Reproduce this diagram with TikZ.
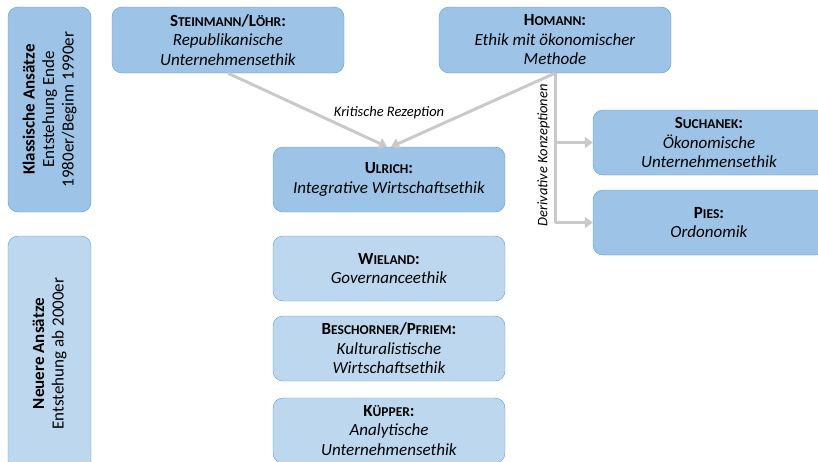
\documentclass[tikz,border=0pt]{standalone}
\usepackage{fontspec}
\setmainfont{Carlito}
\usetikzlibrary{positioning,arrows.meta,calc}
\definecolor{boxdark}{HTML}{9DC3E6}
\definecolor{boxlight}{HTML}{BDD7EE}
\definecolor{boxline}{HTML}{5B9BD5}
\definecolor{arrgray}{HTML}{C9C9C9}
% Kapitaelchen von Hand
\newcommand{\kl}[1]{{\fontsize{13.5}{19.5}\selectfont #1}}

\begin{document}
\begin{tikzpicture}[x=1pt, y=-1pt, font=\fontsize{17}{19.5}\selectfont, line join=round,
	box/.style={draw=boxline, fill=boxdark, rounded corners=10pt, minimum width=232pt, minimum height=66pt, align=center, inner sep=2pt},
	hellbox/.style={box, fill=boxlight},
	phase/.style={box, rotate=90, minimum height=83pt},
	pfeil/.style={draw=arrgray, line width=3pt, -{Triangle[width=11pt,length=8pt]}},
	lbl/.style={font=\fontsize{14.5}{16}\selectfont\itshape, inner sep=1pt}]
	\useasboundingbox (0,0) rectangle (818,461);
	% Phasen
	\node[phase, minimum width=205pt] (klass) at (49.5,109.5) {\textbf{Klassische Ansätze}\\Entstehung Ende\\1980er/Beginn 1990er};
	\node[phase, fill=boxlight, minimum width=235pt] (neu) at (49.5,353.5) {\textbf{Neuere Ansätze}\\Entstehung ab 2000er};
	% klassische Ansaetze
	\node[box] (stl) at (228,40) {\textbf{S\kl{TEINMANN}/L\kl{ÖHR}:}\\\textit{Republikanische}\\\textit{Unternehmensethik}};
	\node[box] (hom) at (555,40) {\textbf{H\kl{OMANN}:}\\\textit{Ethik mit ökonomischer}\\\textit{Methode}};
	\node[box, minimum height=65pt] (ulr) at (389,179.5) {\textbf{U\kl{LRICH}:}\\\textit{Integrative Wirtschaftsethik}};
	\node[box, minimum height=65pt] (suc) at (709,142.5) {\textbf{S\kl{UCHANEK}:}\\\textit{Ökonomische}\\\textit{Unternehmensethik}};
	\node[box, minimum height=65pt] (pie) at (709,222.5) {\textbf{P\kl{IES}:}\\\textit{Ordonomik}};
	% neuere Ansaetze
	\node[hellbox, minimum height=65pt] (wie) at (389,268.5) {\textbf{W\kl{IELAND}:}\\\textit{Governanceethik}};
	\node[hellbox, minimum height=65pt] (bes) at (389,348.5) {\textbf{B\kl{ESCHORNER}/P\kl{FRIEM}:}\\\textit{Kulturalistische}\\\textit{Wirtschaftsethik}};
	\node[hellbox, minimum height=65pt] (kue) at (389,430.5) {\textbf{K\kl{ÜPPER}:}\\\textit{Analytische}\\\textit{Unternehmensethik}};
	% Rezeption
	\draw[pfeil] (stl.south) -- ($(ulr.north)+(-2,0)$);
	\draw[pfeil] (hom.south) -- ($(ulr.north)+(2,0)$);
	\node[lbl, above=27pt of ulr.north] (krit) {Kritische Rezeption};
	% Derivate
	\draw[draw=arrgray, line width=3pt] (hom.south) -- (hom.south |- pie.west);
	\draw[pfeil] (hom.south |- suc.west) -- (suc.west);
	\draw[pfeil] (hom.south |- pie.west) -- (pie.west);
	\node[lbl, rotate=90, anchor=south] (deriv) at ($(hom.south)!0.55!(hom.south |- pie.west)+(-4,0)$) {Derivative Konzeptionen};
\end{tikzpicture}
\end{document}
